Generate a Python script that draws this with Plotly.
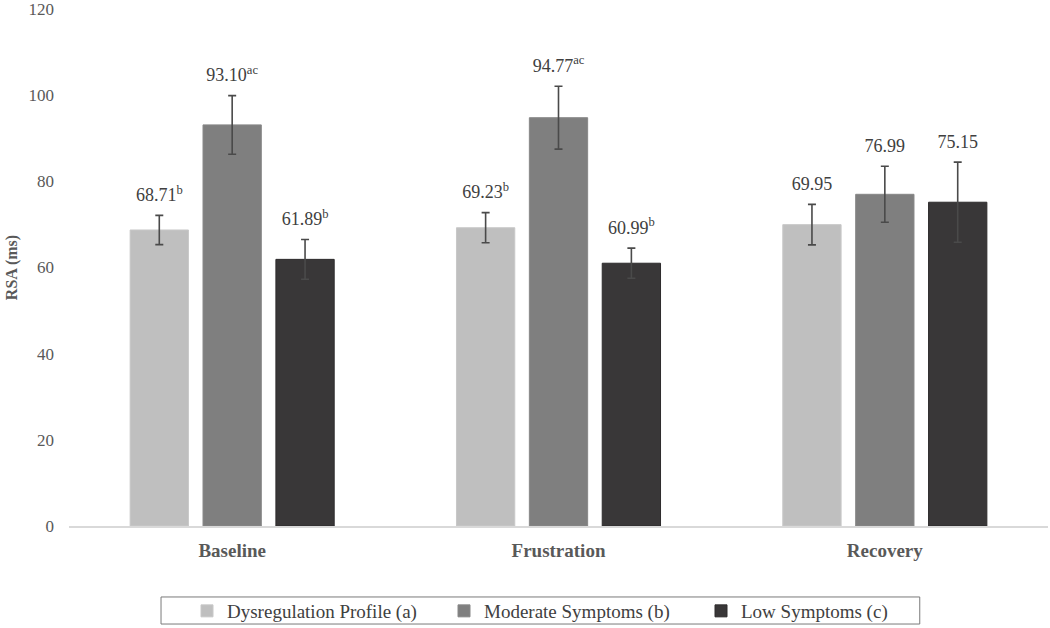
import plotly.graph_objects as go

categories = ["Baseline", "Frustration", "Recovery"]
series_names = ["Dysregulation Profile (a)", "Moderate Symptoms (b)", "Low Symptoms (c)"]
dysregulation = [68.71, 69.23, 69.95]
moderate = [93.10, 94.77, 76.99]
low = [61.89, 60.99, 75.15]
dysregulation_err = [3.4, 3.5, 4.7]
moderate_err = [6.8, 7.3, 6.5]
low_err = [4.6, 3.5, 9.3]
dysregulation_sup = ["b", "b", ""]
moderate_sup = ["ac", "ac", ""]
low_sup = ["b", "b", ""]
y_ticks = [0, 20, 40, 60, 80, 100, 120]

colors = ["#bfbfbf", "#7f7f7f", "#393738"]
line_colors = ["#c8c8c8", "#888888", "#2e2c2d"]
FONT = "Liberation Serif"
TXT = "#404040"

values = [dysregulation, moderate, low]
errors = [dysregulation_err, moderate_err, low_err]
sups = [dysregulation_sup, moderate_sup, low_sup]

fig = go.Figure()
for i in range(3):
    fig.add_trace(go.Bar(
        x=categories, y=values[i], name=series_names[i],
        offsetgroup=str(i),
        marker=dict(color=colors[i], line=dict(color=line_colors[i], width=1)),
        error_y=dict(type="data", array=errors[i], visible=True,
                     color="#4a4a4a", thickness=1.6, width=4),
    ))
for i in range(3):
    labels = [f"{v:.2f}" + (f"<sup>{s}</sup>" if s else "") for v, s in zip(values[i], sups[i])]
    fig.add_trace(go.Scatter(
        x=categories, y=[v + e for v, e in zip(values[i], errors[i])],
        offsetgroup=str(i), mode="markers+text", text=labels,
        textposition="top center",
        textfont=dict(family=FONT, size=18, color=TXT),
        marker=dict(size=14, opacity=0),
        showlegend=False, hoverinfo="skip", cliponaxis=False,
    ))

# legend frame (paper coordinates)
fig.add_shape(type="rect", xref="paper", yref="paper",
              x0=0.094, x1=0.869, y0=-0.1896, y1=-0.1373,
              line=dict(color="#7a7a7a", width=1), fillcolor="rgba(0,0,0,0)")

fig.update_layout(
    width=1050, height=628,
    paper_bgcolor="white", plot_bgcolor="white",
    margin=dict(l=69, r=2, t=9, b=102, autoexpand=False),
    barmode="group", bargap=0.33, bargroupgap=0.2,
    scattermode="group", scattergap=0.33,
    font=dict(family=FONT, color="#595959"),
    showlegend=True,
    legend=dict(
        orientation="h", x=(187 - 69) / 979, xanchor="left",
        yref="container", y=1 - 611 / 628, yanchor="middle",
        borderwidth=0, bgcolor="rgba(0,0,0,0)",
        font=dict(family=FONT, size=19, color=TXT),
        entrywidth=212, entrywidthmode="pixels",
        itemwidth=30,
    ),
)
fig.update_yaxes(
    range=[0, 120], tickvals=y_ticks, showgrid=False, zeroline=False,
    showline=False, ticklabelstandoff=14, ticklabeloverflow="allow",
    tickfont=dict(family=FONT, size=17, color="#595959"),
    title=dict(text="<b>RSA (ms)</b>", font=dict(family=FONT, size=16, color="#595959"), standoff=6),
)
fig.update_xaxes(
    showgrid=False, showline=True, linecolor="#d9d9d9", linewidth=1.5,
    ticks="outside", ticklen=6, tickcolor="rgba(0,0,0,0)",
    tickfont=dict(family=FONT, size=19, color="#595959"),
    tickvals=categories, ticktext=[f"<b>{c}</b>" for c in categories],
)

fig.write_html("out.html", config={"displayModeBar": False},
               post_script="document.body.style.margin='0';")
